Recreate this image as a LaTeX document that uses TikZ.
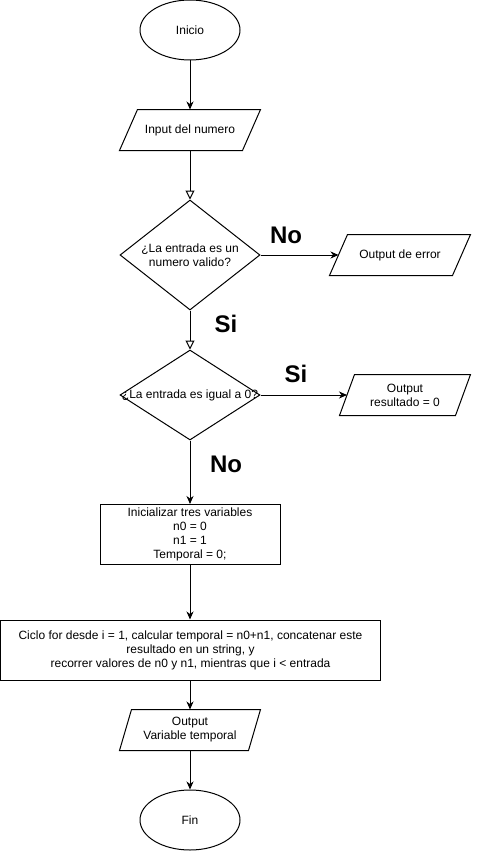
\documentclass[tikz,border=0pt]{standalone}
\usepackage{fontspec}
\setmainfont{Liberation Sans}
\usetikzlibrary{shapes.geometric,arrows.meta}
\newcommand\parashape[2]{\draw ([xshift=#2]#1.north west) -- ([xshift=#2]#1.north east) -- ([xshift=-#2]#1.south east) -- ([xshift=-#2]#1.south west) -- cycle;}
\begin{document}
\begin{tikzpicture}[x=1pt,y=-1pt, line width=1pt,
  every node/.style={font=\fontsize{12pt}{14pt}\selectfont, inner sep=0pt},
  term/.style={draw, ellipse, minimum width=100pt, minimum height=60pt},
  proc/.style={draw, rectangle, align=center, minimum height=60pt},
  io/.style={align=center, minimum height=40pt},
  dec/.style={draw, diamond, minimum width=140pt},
  lbl/.style={font=\bfseries\fontsize{24pt}{28pt}\selectfont},
  arr/.style={-{Stealth[length=8pt,width=7pt,inset=2.5pt]}},
  oarr/.style={-{Triangle[open,length=9pt,width=9pt]}}
]
\useasboundingbox (0,0) rectangle (481,851);

\node[term] (ini) at (190,30) {Inicio};

\node[io, minimum width=122pt] (inp) at (190,130) {Input del numero};
\parashape{inp}{9pt}

\node[dec, minimum height=110pt] (d1) at (190,255) {};
\node[align=center] (d1t) at (d1.center) {¿La entrada es un\\numero valido?};

\node[io, minimum width=122pt] (err) at (400,255) {Output de error};
\parashape{err}{9pt}

\node[dec, minimum height=90pt] (d2) at (190,395) {};
\node (d2t) at (d2.center) {¿La entrada es igual a 0?};

\node[io, minimum width=115pt] (res) at (405,395) {Output\\resultado = 0};
\parashape{res}{7.5pt}

\node[proc, minimum width=180pt] (init) at (190,534.5) {Inicializar tres variables\\n0 = 0\\n1 = 1\\Temporal = 0;};

\node[proc, minimum width=380pt] (loop) at (190.5,650) {Ciclo for desde i = 1, calcular temporal = n0+n1, concatenar este\\resultado en un string, y\\recorrer valores de n0 y n1, mientras que i < entrada};

\node[io, minimum width=128pt] (outv) at (190,730) {Output\\Variable temporal};
\parashape{outv}{6pt}

\node[term] (fin) at (190,820) {Fin};

\node[lbl] (no1) at (286,235) {No};
\node[lbl] (si1) at (226,324) {Si};
\node[lbl] (si2) at (296,374) {Si};
\node[lbl] (no2) at (226,464) {No};

\draw[arr] (ini) -- (inp);
\draw[oarr] (inp) -- (d1.north);
\draw[arr] (d1.east) -- (err.west);
\draw[oarr] (d1.south) -- (d2.north);
\draw[arr] (d2.east) -- (res.west);
\draw[arr] (d2.south) -- (init.north);
\draw[arr] (init.south) -- (init.south |- loop.north);
\draw[arr] (init.south |- loop.south) -- (outv.north);
\draw[arr] (outv.south) -- (fin.north);
\end{tikzpicture}
\end{document}
